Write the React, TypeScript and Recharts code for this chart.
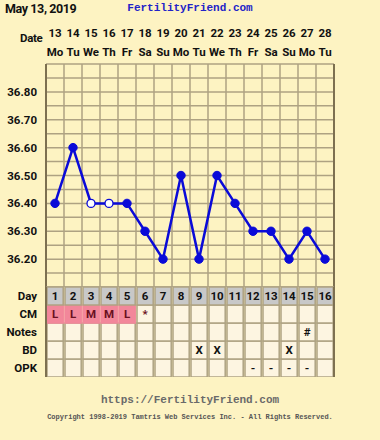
import React from 'react';
import { ComposedChart, Line, XAxis, YAxis, CartesianGrid, BarChart, Bar, Cell, LabelList } from 'recharts';

const days = [1, 2, 3, 4, 5, 6, 7, 8, 9, 10, 11, 12, 13, 14, 15, 16];
const dates = ['13', '14', '15', '16', '17', '18', '19', '20', '21', '22', '23', '24', '25', '26', '27', '28'];
const weekdays = ['Mo', 'Tu', 'We', 'Th', 'Fr', 'Sa', 'Su', 'Mo', 'Tu', 'We', 'Th', 'Fr', 'Sa', 'Su', 'Mo', 'Tu'];
const temps = [36.4, 36.6, 36.4, 36.4, 36.4, 36.3, 36.2, 36.5, 36.2, 36.5, 36.4, 36.3, 36.3, 36.2, 36.3, 36.2];
const openDots = [false, false, true, true, false, false, false, false, false, false, false, false, false, false, false, false];
const cmValues = ['L', 'L', 'M', 'M', 'L', '*', '', '', '', '', '', '', '', '', '', ''];
const cmFlagged = [true, true, true, true, true, false, false, false, false, false, false, false, false, false, false, false];
const notesValues = ['', '', '', '', '', '', '', '', '', '', '', '', '', '', '#', ''];
const bdValues = ['', '', '', '', '', '', '', '', 'X', 'X', '', '', '', 'X', '', ''];
const opkValues = ['', '', '', '', '', '', '', '', '', '', '', '-', '-', '-', '-', ''];
const rowLabels = ['OPK', 'BD', 'Notes', 'CM', 'Day'];
const rowTicks = [0.5, 1.5, 2.5, 3.5, 4.5];
const columnEdges = [0.5, 1.5, 2.5, 3.5, 4.5, 5.5, 6.5, 7.5, 8.5, 9.5, 10.5, 11.5, 12.5, 13.5, 14.5, 15.5, 16.5];
const tempGridTicks = [36.1, 36.15, 36.2, 36.25, 36.3, 36.35, 36.4, 36.45, 36.5, 36.55, 36.6, 36.65, 36.7, 36.75, 36.8, 36.85, 36.9];
const tempLabelTicks = ['36.20', '36.30', '36.40', '36.50', '36.60', '36.70', '36.80'];

const tempData = days.map((d, i) => ({ day: d, temp: temps[i], open: openDots[i] }));
const tableData = days.map((d, i) => ({
  day: d,
  opk: 1, bd: 1, notes: 1, cm: 1, dayRow: 1,
  opkL: opkValues[i], bdL: bdValues[i], notesL: notesValues[i], cmL: cmValues[i], dayL: String(d),
}));

const BG = '#fdf3c2';
const GRID = '#aea282';
const BORDER = '#7d7050';
const CELL = '#fdf5e1';
const FONT = 'Roboto, "Liberation Sans", sans-serif';
const MONO = '"Liberation Mono", "DejaVu Sans Mono", monospace';

const fmtTemp = (v: number) => {
  const s = v.toFixed(2);
  return tempLabelTicks.includes(s) ? s : '';
};

const DateTick = (props: any) => {
  const { x, y, payload } = props;
  const i = days.indexOf(payload.value);
  return (
    <g>
      <text x={x} y={y - 27} textAnchor="middle" fontFamily={FONT} fontWeight="bold" fontSize={11.5} fill="#111">{dates[i]}</text>
      <text x={x} y={y - 8} textAnchor="middle" fontFamily={FONT} fontWeight="bold" fontSize={11.5} fill="#111">{weekdays[i]}</text>
    </g>
  );
};

const TempDot = (props: any) => {
  const { cx, cy, payload, index } = props;
  if (cx == null || cy == null) return <g key={index} />;
  return payload.open
    ? <circle key={index} cx={cx} cy={cy} r={4} fill="#ffffff" stroke="#0a0ad8" strokeWidth={1.3} />
    : <circle key={index} cx={cx} cy={cy} r={4.2} fill="#0a0ad8" stroke="#0a0ad8" strokeWidth={1} />;
};

const tickStyle = { fontFamily: FONT, fontWeight: 'bold' as const, fontSize: 11.5, fill: '#111' };

export default function App() {
  return (
    <div style={{ position: 'absolute', left: 0, top: 0, width: 380, height: 440, background: BG, overflow: 'hidden' }}>
      <div style={{ position: 'absolute', left: 5, top: 0, fontFamily: FONT, fontWeight: 'bold', fontSize: 12.5, color: '#111', letterSpacing: -0.4, lineHeight: '17px' }}>May 13, 2019</div>
      <div style={{ position: 'absolute', left: 0, width: 380, top: 1, textAlign: 'center', fontFamily: MONO, fontWeight: 'bold', fontSize: 11, color: '#2323c8', lineHeight: '15px' }}>FertilityFriend.com</div>
      <div style={{ position: 'absolute', left: 20, top: 31, fontFamily: FONT, fontWeight: 'bold', fontSize: 11.5, color: '#111', letterSpacing: -0.3 }}>Date</div>

      <div style={{ position: 'absolute', left: 0, top: 0 }}>
        <ComposedChart width={380} height={287} data={tempData} margin={{ top: 0, right: 0, bottom: 0, left: 0 }}>
          <XAxis xAxisId="top" orientation="top" dataKey="day" type="number" domain={[0.5, 16.5]} ticks={days} interval={0} height={64} axisLine={false} tickLine={false} tickSize={0} tickMargin={0} tick={<DateTick />} />
          <XAxis xAxisId="grid" type="number" dataKey="day" domain={[0.5, 16.5]} ticks={columnEdges} interval={0} hide />
          <YAxis yAxisId="left" type="number" domain={[36.1, 36.9]} ticks={tempGridTicks} interval={0} width={46} tickFormatter={fmtTemp} tickLine={false} tickMargin={3} axisLine={{ stroke: BORDER, strokeWidth: 2 }} tick={tickStyle} />
          <YAxis yAxisId="right" orientation="right" type="number" domain={[36.1, 36.9]} ticks={tempGridTicks} interval={0} width={46} tickFormatter={fmtTemp} tickLine={false} tickMargin={3} axisLine={{ stroke: BORDER, strokeWidth: 2 }} tick={{ ...tickStyle, textAnchor: 'start' }} />
          <CartesianGrid xAxisId="grid" yAxisId="left" stroke={GRID} strokeWidth={1.5} strokeDasharray="" />
          <Line xAxisId="top" yAxisId="left" type="linear" dataKey="temp" stroke="#0a0ad8" strokeWidth={2.5} dot={TempDot} activeDot={false} isAnimationActive={false} />
        </ComposedChart>
      </div>

      <div style={{ position: 'absolute', left: 0, top: 286 }}>
        <BarChart width={380} height={91} data={tableData} margin={{ top: 1, right: 0, bottom: 0, left: 0 }} barCategoryGap={0} barGap={0}>
          <XAxis type="number" dataKey="day" domain={[0.5, 16.5]} ticks={days} hide />
          <YAxis yAxisId="left" type="number" domain={[0, 5]} ticks={rowTicks} interval={0} width={46} tickFormatter={(v: number) => rowLabels[Math.floor(v)]} tickLine={false} tickMargin={3} axisLine={{ stroke: BORDER, strokeWidth: 2 }} tick={tickStyle} />
          <YAxis yAxisId="right" orientation="right" type="number" domain={[0, 5]} ticks={rowTicks} interval={0} width={46} tickFormatter={(v: number) => rowLabels[Math.floor(v)]} tickLine={false} tickMargin={3} axisLine={{ stroke: BORDER, strokeWidth: 2 }} tick={{ ...tickStyle, textAnchor: 'start' }} />
          <Bar yAxisId="left" dataKey="opk" stackId="t" barSize={18} isAnimationActive={false}>
            {days.map((d) => <Cell key={d} fill={CELL} stroke={GRID} strokeWidth={1.5} />)}
            <LabelList dataKey="opkL" position="center" style={tickStyle} />
          </Bar>
          <Bar yAxisId="left" dataKey="bd" stackId="t" barSize={18} isAnimationActive={false}>
            {days.map((d) => <Cell key={d} fill={CELL} stroke={GRID} strokeWidth={1.5} />)}
            <LabelList dataKey="bdL" position="center" style={tickStyle} />
          </Bar>
          <Bar yAxisId="left" dataKey="notes" stackId="t" barSize={18} isAnimationActive={false}>
            {days.map((d) => <Cell key={d} fill={CELL} stroke={GRID} strokeWidth={1.5} />)}
            <LabelList dataKey="notesL" position="center" style={tickStyle} />
          </Bar>
          <Bar yAxisId="left" dataKey="cm" stackId="t" barSize={18} isAnimationActive={false}>
            {days.map((d, i) => <Cell key={d} fill={cmFlagged[i] ? '#f2879a' : CELL} stroke={cmFlagged[i] ? '#f2879a' : GRID} strokeWidth={1.5} />)}
            <LabelList dataKey="cmL" position="center" style={{ ...tickStyle, fill: '#6a1020' }} />
          </Bar>
          <Bar yAxisId="left" dataKey="dayRow" stackId="t" barSize={18} isAnimationActive={false}>
            {days.map((d) => <Cell key={d} fill="#c8c8c8" stroke={GRID} strokeWidth={1.5} />)}
            <LabelList dataKey="dayL" position="center" style={tickStyle} />
          </Bar>
        </BarChart>
      </div>

      <div style={{ position: 'absolute', left: 0, width: 380, top: 393, textAlign: 'center', fontFamily: MONO, fontWeight: 'bold', fontSize: 11, color: '#6a6a6a', lineHeight: '15px' }}>https://FertilityFriend.com</div>
      <div style={{ position: 'absolute', left: 0, width: 380, top: 412, textAlign: 'center', fontFamily: MONO, fontWeight: 'bold', fontSize: 7, color: '#555', lineHeight: '10px' }}>Copyright 1998-2019 Tamtris Web Services Inc. - All Rights Reserved.</div>
    </div>
  );
}
